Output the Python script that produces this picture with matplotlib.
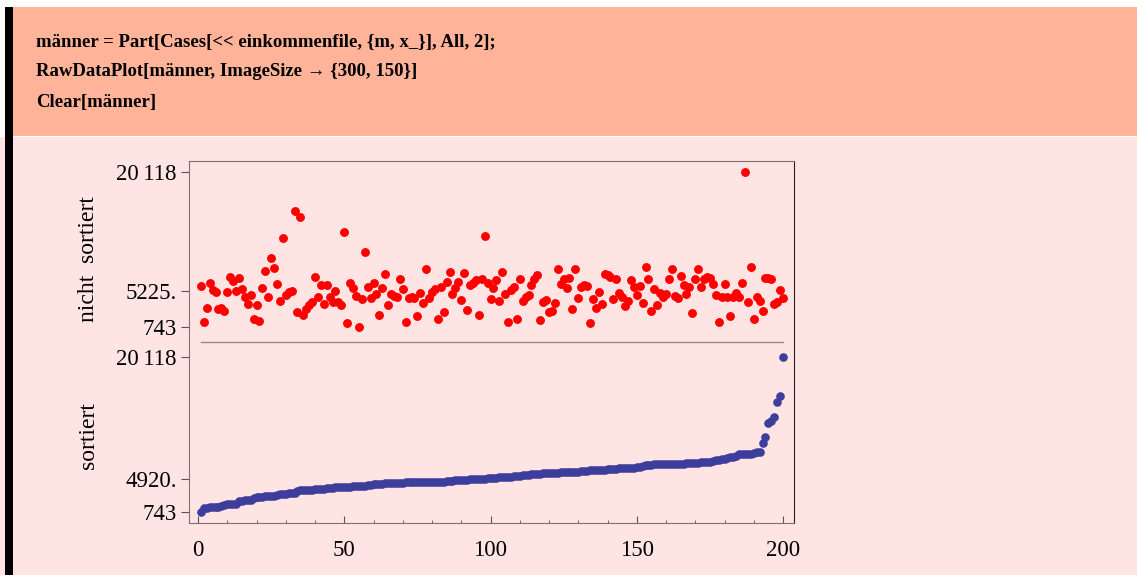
import matplotlib
matplotlib.use("Agg")
import matplotlib.pyplot as plt
from matplotlib.patches import Rectangle

# unsorted incomes (m), index 1..200
maenner = [
    5909, 1326, 3159, 6200, 5367, 5076, 2992, 3159, 2784, 5159,
    6992, 6492, 5284, 6826, 5451, 4451, 3659, 4742, 1701, 3492,
    1492, 5576, 7742, 4451, 9409, 8160, 6118, 3992, 11826, 4742,
    5159, 5284, 15242, 2575, 14493, 2242, 2992, 3492, 3867, 6950,
    4533, 5992, 3575, 5992, 4533, 3909, 5242, 3909, 3492, 12659,
    1200, 6284, 5575, 4659, 743, 4242, 10117, 5784, 4367, 6200,
    4867, 2284, 5575, 7367, 3492, 4867, 4659, 4533, 6700, 5450,
    1325, 4325, 4533, 4325, 2158, 4950, 3700, 7992, 4325, 5158,
    5450, 1700, 5700, 2617, 6325, 7575, 4868, 5575, 6408, 4117,
    7450, 2868, 5992, 6284, 6617, 2284, 6700, 12117, 6200, 4242,
    5575, 6617, 3992, 7658, 4868, 1408, 5367, 5700, 1742, 6784,
    3992, 4533, 4700, 5992, 6700, 7200, 1617, 3825, 4117, 2575,
    2700, 3783, 7992, 6117, 6700, 5575, 6825, 2950, 7992, 4408,
    5700, 5992, 5867, 1200, 4242, 3117, 5158, 3658, 7325, 7242,
    7033, 4283, 6700, 4950, 4533, 3367, 3992, 6617, 5783, 4700,
    5908, 3700, 8284, 6700, 2742, 5450, 3533, 4950, 4533, 4867,
    6742, 7992, 4658, 4367, 7158, 5992, 4825, 5700, 2533, 6742,
    7992, 5742, 6742, 7033, 6825, 6117, 4742, 1325, 4533, 6075,
    4533, 2117, 4533, 4950, 4533, 6200, 20118, 3825, 8284, 1783,
    4533, 4033, 2783, 6908, 6867, 6700, 3575, 3825, 5367, 4367,
]
idx = list(range(1, len(maenner) + 1))
sortiert = sorted(maenner)

top_ticks = [743, 5225, 20118]
top_labels = ["743", "5225.", "20\u2009118"]
bot_ticks = [743, 4920, 20118]
bot_labels = ["743", "4920.", "20\u2009118"]
x_ticks = [0, 50, 100, 150, 200]

code_lines = [
    "männer = Part[Cases[<< einkommenfile, {m, x_}], All, 2];",
    "RawDataPlot[männer, ImageSize \u2192 {300, 150}]",
    "Clear[männer]",
]

W, H = 1137, 575
serif = ["Liberation Serif", "DejaVu Serif"]
offset = 23125    # shift of the upper panel in data units
sep_y = 21993


def fx(x):
    return x / W


def fy(y):
    return 1 - y / H


fig = plt.figure(figsize=(W / 100, H / 100), dpi=100)
fig.patch.set_facecolor("#ffe4e4")

# notebook cell decoration
fig.patches.append(Rectangle((0, fy(137)), 1, 1 - fy(137), transform=fig.transFigure,
                             facecolor="white", edgecolor="none", zorder=0))
fig.patches.append(Rectangle((fx(13), fy(136)), 1, fy(7) - fy(136), transform=fig.transFigure,
                             facecolor="#ffb49a", edgecolor="none", zorder=0))
fig.patches.append(Rectangle((fx(5), 0), fx(8), fy(7), transform=fig.transFigure,
                             facecolor="black", edgecolor="none", zorder=1))

for k, line in enumerate(code_lines):
    fig.text(fx(36), fy(42 + 30 * k), line, family=serif, fontweight="bold",
             fontsize=13.5, va="center", ha="left")

ax = fig.add_axes([fx(189), fy(523), fx(794) - fx(189), fy(161) - fy(523)])
ax.set_facecolor("#ffe4e4")

ax.plot(idx, [v + offset for v in maenner], "o", color="#ff0000", ms=6.4, mew=0)
ax.plot(idx, sortiert, "o", color="#3d3d9c", ms=6.2, mew=0)
ax.plot([1, 200], [sep_y, sep_y], color="#8c8c8c", lw=1)

ax.set_xlim(-3.08, 203.76)
ax.set_ylim(-632, 44618)

ax.set_yticks(bot_ticks + [t + offset for t in top_ticks])
ax.set_yticklabels(bot_labels + top_labels, family=serif, fontsize=16.5)
ax.set_xticks(x_ticks)
ax.set_xticks(range(0, 201, 10), minor=True)
ax.set_xticklabels([str(t) for t in x_ticks], family=serif, fontsize=16.5)

ax.tick_params(axis="y", direction="out", length=6, width=0.8, color="#555555", pad=3)
ax.tick_params(axis="x", which="major", direction="in", length=5, width=0.8, color="#555555", pad=12)
ax.tick_params(axis="x", which="minor", direction="in", length=2.5, width=0.6, color="#555555")

for side in ["top", "left", "bottom"]:
    ax.spines[side].set_color("#7a7070")
ax.spines["right"].set_color("#222222")

fig.text(fx(88), fy(259), "nicht  sortiert", family=serif, fontsize=17,
         rotation=90, ha="center", va="center")
fig.text(fx(89), fy(436), "sortiert", family=serif, fontsize=17,
         rotation=90, ha="center", va="center")

fig.savefig("out.png", dpi=100, facecolor=fig.get_facecolor())
